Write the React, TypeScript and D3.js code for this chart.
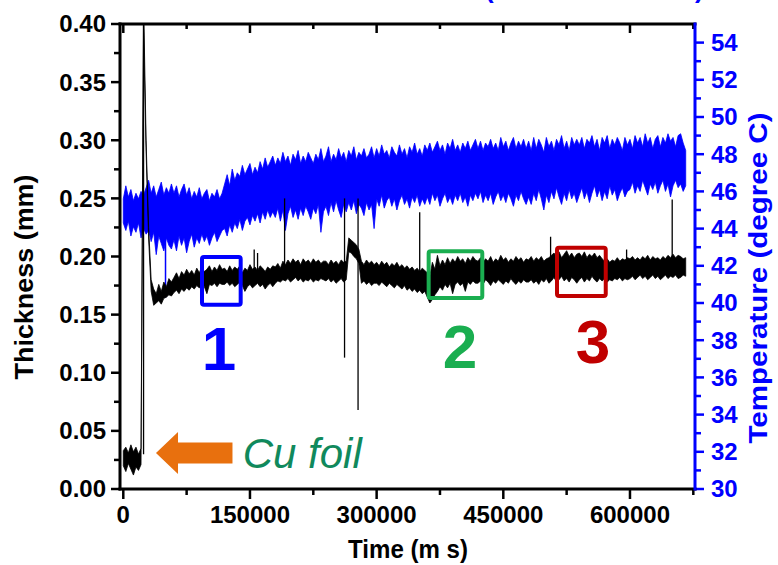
import React from 'react';
import * as d3 from 'd3';

const W = 778;
const H = 565;
const PLOT = { left: 120, right: 695, top: 24, bottom: 489 };

const X_TICKS = [0, 150000, 300000, 450000, 600000];
const X_MINOR = [75000, 225000, 375000, 525000, 675000];
const Y_TICKS = [0, 0.05, 0.1, 0.15, 0.2, 0.25, 0.3, 0.35, 0.4];
const Y_MINOR = [0.025, 0.075, 0.125, 0.175, 0.225, 0.275, 0.325, 0.375];
const T_TICKS = [30, 32, 34, 36, 38, 40, 42, 44, 46, 48, 50, 52, 54];
const T_MINOR = [31, 33, 35, 37, 39, 41, 43, 45, 47, 49, 51, 53];

// sampling grid of the read-off envelopes (ms)
const SAMPLE_START = 0;
const SAMPLE_STEP = 3000;

// Temperature (degree C): upper / lower envelope of the noisy trace
const TEMP_HIGH = [
  45.6, 46.3, 45.7, 46.1, 45.5, 45.9, 45.6, 46.0, 45.8, 46.2, 46.6, 45.9, 46.3, 45.7, 46.1, 46.5, 45.8, 46.2, 45.9, 46.4,
  45.9, 46.3, 45.7, 46.1, 46.4, 45.8, 46.2, 45.6, 46.0, 45.7, 46.2, 45.6, 45.9, 46.1, 45.5, 45.9, 45.7, 46.1, 45.6, 45.9,
  46.4, 46.9, 46.3, 47.2, 46.6, 47.0, 46.8, 47.4, 46.9, 47.2, 47.5, 46.9, 47.3, 47.0, 47.6, 47.2, 47.8, 47.3, 47.6, 47.9,
  47.4, 47.8, 47.5, 48.1, 47.6, 47.9, 47.4, 48.0, 47.7, 48.2, 47.5, 47.9, 47.6, 48.1, 47.8, 47.5, 48.0, 47.7, 48.3, 47.6,
  47.9, 48.4, 47.6, 48.0, 47.7, 48.3, 47.8, 48.1, 47.6, 48.2, 47.9, 48.4, 47.7, 48.1, 47.9, 48.3, 47.8, 48.0, 48.4, 47.8,
  48.3, 47.9, 48.5, 48.0, 48.2, 47.8, 48.4, 48.1, 47.9, 48.5, 48.0, 48.3, 47.8, 48.4, 48.1, 48.6, 48.0, 48.3, 47.9, 48.5,
  48.2, 48.6, 48.1, 48.4, 48.7, 48.2, 48.5, 48.0, 48.6, 48.3, 48.8, 48.2, 48.5, 48.1, 48.6, 48.3, 48.7, 48.2, 48.5, 48.8,
  48.3, 48.7, 48.2, 48.6, 48.4, 48.8, 48.3, 48.6, 48.2, 48.9, 48.4, 48.7, 48.2, 48.6, 48.9, 48.3, 48.7, 48.4, 48.8, 48.3,
  48.7, 48.2, 48.9, 48.3, 48.8, 48.5, 48.1, 48.9, 48.4, 48.7, 48.2, 48.8, 48.5, 49.0, 48.3, 48.7, 48.2, 48.9, 48.5, 48.8,
  48.5, 48.9, 48.3, 48.8, 48.6, 49.0, 48.4, 48.8, 48.2, 48.9, 48.6, 49.0, 48.3, 48.8, 48.5, 48.9, 48.6, 48.2, 48.9, 48.5,
  48.8, 48.3, 49.0, 48.6, 48.9, 48.4, 49.1, 48.6, 48.9, 48.3, 48.8, 49.0, 48.4, 48.9, 48.6, 49.1, 48.7, 48.9, 48.4, 49.0,
  49.1, 48.6, 48.2,
];
const TEMP_LOW = [
  44.3, 43.9, 44.4, 43.6, 44.1, 43.8, 44.3, 43.5, 44.0, 43.7, 43.9, 43.3, 43.8, 42.6, 43.6, 43.2, 42.8, 43.5, 43.1, 42.9,
  43.4, 42.8, 43.6, 43.1, 43.5, 42.7, 43.3, 43.7, 43.0, 43.5, 43.2, 43.7, 43.3, 43.6, 43.1, 43.5, 43.8, 43.3, 43.6, 43.9,
  44.0, 43.6, 44.2, 43.8, 44.3, 44.0, 44.5, 43.9, 44.4, 44.6, 44.2, 44.7, 44.4, 44.8, 44.3, 44.9, 44.5, 45.0, 44.6, 44.9,
  44.6, 45.1, 44.4, 45.0, 43.9, 44.8, 45.2, 44.6, 45.0, 44.5, 45.1, 44.7, 45.2, 44.9, 44.5, 45.1, 44.8, 45.3, 43.8, 44.9,
  45.2, 44.7, 45.4, 44.9, 45.5, 45.0, 44.6, 45.3, 44.9, 45.4, 45.0, 45.5, 44.8, 45.3, 45.1, 44.7, 45.4, 45.0, 45.3, 44.0,
  45.6, 45.2, 45.8, 45.1, 45.5, 45.7, 45.2, 45.6, 45.0, 45.5, 45.8, 45.3, 45.6, 45.1, 45.7, 45.4, 45.8, 45.2, 45.6, 45.3,
  45.7, 45.3, 45.9, 45.5, 45.8, 45.2, 45.6, 45.9, 45.4, 45.7, 45.3, 45.8, 45.5, 45.9, 45.4, 45.7, 45.2, 45.8, 45.5, 45.9,
  45.6, 46.0, 45.4, 45.8, 45.5, 45.9, 45.3, 45.7, 46.0, 45.5, 45.8, 45.4, 45.9, 45.6, 45.2, 45.8, 45.5, 46.0, 45.6, 45.3,
  45.7, 45.3, 45.9, 45.5, 46.1, 45.6, 45.0, 45.8, 45.4, 46.0, 45.6, 46.2, 45.7, 45.3, 45.9, 45.5, 46.1, 45.6, 45.9, 45.4,
  45.8, 46.2, 45.6, 46.0, 45.4, 45.9, 46.3, 45.7, 46.1, 45.5, 46.0, 45.6, 46.3, 45.8, 46.1, 45.5, 45.9, 46.2, 45.7, 46.0,
  46.1, 46.5, 45.9, 46.3, 46.0, 46.6, 46.2, 45.8, 46.4, 46.1, 46.5, 45.9, 46.3, 46.6, 46.0, 46.4, 45.7, 46.3, 46.6, 46.2,
  46.4, 46.0, 46.3,
];

// Thickness (mm): upper / lower envelope of the noisy trace
const THICK_HIGH = [
  0.033, 0.036, 0.031, 0.038, 0.032, 0.036, 0.030, 0.035, 0.420, 0.300, 0.225, 0.180, 0.172, 0.168, 0.176, 0.170, 0.178, 0.174, 0.181, 0.178,
  0.182, 0.186, 0.181, 0.187, 0.184, 0.189, 0.185, 0.188, 0.184, 0.190, 0.186, 0.191, 0.187, 0.189, 0.192, 0.187, 0.191, 0.188, 0.193, 0.189,
  0.190, 0.187, 0.192, 0.188, 0.191, 0.189, 0.192, 0.186, 0.190, 0.188, 0.193, 0.189, 0.191, 0.188, 0.192, 0.190, 0.187, 0.191, 0.189, 0.192,
  0.191, 0.194, 0.190, 0.196, 0.193, 0.197, 0.194, 0.198, 0.195, 0.197, 0.193, 0.198, 0.195, 0.197, 0.194, 0.198, 0.195, 0.197, 0.194, 0.196,
  0.196, 0.193, 0.197, 0.194, 0.196, 0.193, 0.197, 0.195, 0.196, 0.216, 0.214, 0.212, 0.210, 0.206, 0.196, 0.193, 0.197, 0.194, 0.196, 0.193,
  0.195, 0.192, 0.196, 0.193, 0.195, 0.191, 0.194, 0.192, 0.195, 0.191, 0.193, 0.190, 0.192, 0.189, 0.191, 0.188, 0.190, 0.187, 0.190, 0.188,
  0.186, 0.183, 0.195, 0.189, 0.201, 0.192, 0.197, 0.193, 0.199, 0.194, 0.198, 0.195, 0.200, 0.196, 0.198, 0.194, 0.199, 0.196, 0.200, 0.197,
  0.196, 0.199, 0.195, 0.198, 0.196, 0.200, 0.195, 0.198, 0.196, 0.201, 0.197, 0.199, 0.195, 0.198, 0.196, 0.200, 0.197, 0.199, 0.195, 0.198,
  0.197, 0.200, 0.196, 0.199, 0.197, 0.200, 0.196, 0.198, 0.199, 0.201, 0.203, 0.200, 0.204, 0.199, 0.202, 0.205, 0.200, 0.203, 0.199, 0.202,
  0.203, 0.200, 0.204, 0.199, 0.202, 0.200, 0.203, 0.199, 0.201, 0.198, 0.196, 0.198, 0.195, 0.197, 0.196, 0.199, 0.196, 0.198, 0.197, 0.199,
  0.198, 0.200, 0.197, 0.199, 0.197, 0.200, 0.198, 0.201, 0.197, 0.200, 0.198, 0.199, 0.197, 0.200, 0.198, 0.201, 0.199, 0.202, 0.199, 0.201,
  0.200, 0.198, 0.199,
];
const THICK_LOW = [
  0.020, 0.015, 0.022, 0.017, 0.012, 0.019, 0.016, 0.021, 0.395, 0.290, 0.215, 0.170, 0.158, 0.160, 0.162, 0.159, 0.164, 0.165, 0.167, 0.166,
  0.169, 0.171, 0.168, 0.172, 0.170, 0.173, 0.171, 0.174, 0.172, 0.175, 0.173, 0.176, 0.174, 0.168, 0.176, 0.175, 0.177, 0.174, 0.177, 0.176,
  0.176, 0.178, 0.175, 0.177, 0.174, 0.176, 0.178, 0.175, 0.170, 0.174, 0.176, 0.173, 0.175, 0.177, 0.174, 0.176, 0.172, 0.175, 0.177, 0.174,
  0.177, 0.179, 0.178, 0.180, 0.179, 0.181, 0.178, 0.180, 0.182, 0.179, 0.181, 0.178, 0.180, 0.179, 0.181, 0.178, 0.180, 0.179, 0.181, 0.180,
  0.179, 0.181, 0.178, 0.180, 0.177, 0.179, 0.181, 0.178, 0.180, 0.204, 0.203, 0.200, 0.198, 0.194, 0.177, 0.179, 0.176, 0.178, 0.175, 0.177,
  0.177, 0.175, 0.178, 0.176, 0.174, 0.177, 0.175, 0.173, 0.176, 0.174, 0.172, 0.175, 0.171, 0.173, 0.170, 0.172, 0.169, 0.171, 0.168, 0.170,
  0.165, 0.160, 0.163, 0.167, 0.170, 0.174, 0.171, 0.176, 0.173, 0.177, 0.168, 0.176, 0.178, 0.175, 0.177, 0.170, 0.178, 0.176, 0.179, 0.177,
  0.177, 0.179, 0.176, 0.180, 0.178, 0.175, 0.179, 0.177, 0.180, 0.178, 0.176, 0.179, 0.177, 0.181, 0.178, 0.176, 0.179, 0.177, 0.180, 0.178,
  0.178, 0.180, 0.177, 0.179, 0.176, 0.180, 0.178, 0.181, 0.177, 0.179, 0.182, 0.178, 0.180, 0.183, 0.179, 0.181, 0.178, 0.182, 0.180, 0.177,
  0.180, 0.182, 0.178, 0.181, 0.179, 0.183, 0.180, 0.178, 0.181, 0.179, 0.181, 0.178, 0.180, 0.179, 0.181, 0.180, 0.182, 0.179, 0.181, 0.180,
  0.181, 0.183, 0.180, 0.182, 0.184, 0.181, 0.183, 0.180, 0.182, 0.184, 0.181, 0.183, 0.180, 0.182, 0.184, 0.181, 0.183, 0.182, 0.184, 0.181,
  0.182, 0.184, 0.183,
];

// isolated glitches of the thickness trace
const THICK_SPIKE_TIME = [24000, 155000, 159000, 191000, 262000, 278000, 351000, 506000, 596000, 650000];
const THICK_SPIKE_TOP = [0.42, 0.206, 0.203, 0.25, 0.25, 0.25, 0.238, 0.217, 0.206, 0.249];
const THICK_SPIKE_BOTTOM = [0.03, 0.185, 0.185, 0.185, 0.113, 0.068, 0.18, 0.185, 0.188, 0.19];

// isolated glitches of the temperature trace
const TEMP_SPIKE_TIME = [50000];
const TEMP_SPIKE_TOP = [44.0];
const TEMP_SPIKE_BOTTOM = [40.3];

// annotation boxes (time range, thickness range) and labels
const BOX_LABELS = ['1', '2', '3'];
const BOX_COLORS = ['#0000ff', '#1aae50', '#c00000'];
const BOX_T0 = [93200, 361600, 513600];
const BOX_T1 = [139000, 425100, 571300];
const BOX_V0 = [0.1585, 0.1643, 0.166];
const BOX_V1 = [0.1996, 0.2045, 0.2076];
const LABEL_T = [113300, 398700, 556200];
const LABEL_V = [0.1024, 0.104, 0.1084];

const FONT = "'Liberation Sans', Arial, Helvetica, sans-serif";
const BLUE = '#0000ff';

export default function App() {
  const x = d3.scaleLinear().domain([-3900, 677000]).range([PLOT.left, PLOT.right]);
  const yL = d3.scaleLinear().domain([0, 0.4]).range([PLOT.bottom, PLOT.top]);
  const yR = d3.scaleLinear().domain([30, 55]).range([PLOT.bottom, PLOT.top]);

  const tAt = (i: number) => SAMPLE_START + i * SAMPLE_STEP;

  const tempArea = d3
    .area<number>()
    .x((_, i) => x(tAt(i)))
    .y0((_, i) => yR(TEMP_LOW[i]))
    .y1((d) => yR(d))(TEMP_HIGH) as string;

  const thickArea = d3
    .area<number>()
    .x((_, i) => x(tAt(i)))
    .y0((_, i) => yL(THICK_LOW[i]))
    .y1((d) => yL(d))(THICK_HIGH) as string;

  const fmtY = d3.format('.2f');

  // arrow for "Cu foil" in data coordinates
  const arrowTip = { t: 38700, v: 0.031 };
  const arrowHeadT = 64800;
  const arrowEndT = 129300;
  const headHalf = 0.018;
  const shaftHalf = 0.009;
  const arrowPts: [number, number][] = [
    [x(arrowTip.t), yL(arrowTip.v)],
    [x(arrowHeadT), yL(arrowTip.v + headHalf)],
    [x(arrowHeadT), yL(arrowTip.v + shaftHalf)],
    [x(arrowEndT), yL(arrowTip.v + shaftHalf)],
    [x(arrowEndT), yL(arrowTip.v - shaftHalf)],
    [x(arrowHeadT), yL(arrowTip.v - shaftHalf)],
    [x(arrowHeadT), yL(arrowTip.v - headHalf)],
  ];

  return (
    <svg
      width={W}
      height={H}
      viewBox={`0 0 ${W} ${H}`}
      style={{ position: 'absolute', left: 0, top: 0, background: '#fff' }}
      fontFamily={FONT}
    >
      <defs>
        <clipPath id="plotClip">
          <rect x={PLOT.left} y={PLOT.top} width={PLOT.right - PLOT.left} height={PLOT.bottom - PLOT.top} />
        </clipPath>
      </defs>
      <rect x={0} y={0} width={W} height={H} fill="#fff" />

      {/* cut-off heading at the very top */}
      <text x={485} y={-2} fontSize={26} fontWeight="bold" fill={BLUE}>(</text>
      <text x={695} y={-2} fontSize={26} fontWeight="bold" fill={BLUE}>)</text>

      <g clipPath="url(#plotClip)">
        <path d={tempArea} fill={BLUE} stroke={BLUE} strokeWidth={0.8} strokeLinejoin="round" />
        {TEMP_SPIKE_TIME.map((t, i) => (
          <line key={'ts' + i} x1={x(t)} x2={x(t)} y1={yR(TEMP_SPIKE_TOP[i])} y2={yR(TEMP_SPIKE_BOTTOM[i])} stroke={BLUE} strokeWidth={1.5} />
        ))}
        <path d={thickArea} fill="#000" stroke="#000" strokeWidth={0.8} strokeLinejoin="round" />
        {THICK_SPIKE_TIME.map((t, i) => (
          <line key={'ks' + i} x1={x(t)} x2={x(t)} y1={yL(THICK_SPIKE_TOP[i])} y2={yL(THICK_SPIKE_BOTTOM[i])} stroke="#000" strokeWidth={1.3} />
        ))}
      </g>

      {/* left axis */}
      {Y_TICKS.map((v) => (
        <g key={'yt' + v}>
          <line x1={PLOT.left - 9} x2={PLOT.left} y1={yL(v)} y2={yL(v)} stroke="#000" strokeWidth={2.5} />
          <text x={PLOT.left - 14} y={yL(v)} dy="0.35em" textAnchor="end" fontSize={24} fontWeight="bold" fill="#000">
            {fmtY(v)}
          </text>
        </g>
      ))}
      {Y_MINOR.map((v) => (
        <line key={'ym' + v} x1={PLOT.left - 6} x2={PLOT.left} y1={yL(v)} y2={yL(v)} stroke="#000" strokeWidth={2.5} />
      ))}

      {/* bottom & top axis ticks */}
      {X_TICKS.map((t) => (
        <g key={'xt' + t}>
          <line x1={x(t)} x2={x(t)} y1={PLOT.bottom} y2={PLOT.bottom + 10} stroke="#000" strokeWidth={2.5} />
          <line x1={x(t)} x2={x(t)} y1={PLOT.top} y2={PLOT.top + 9} stroke="#000" strokeWidth={2.5} />
          <text x={x(t)} y={523} textAnchor="middle" fontSize={24} fontWeight="bold" fill="#000">
            {String(t)}
          </text>
        </g>
      ))}
      {X_MINOR.map((t) => (
        <g key={'xm' + t}>
          <line x1={x(t)} x2={x(t)} y1={PLOT.bottom} y2={PLOT.bottom + 6} stroke="#000" strokeWidth={2.5} />
          <line x1={x(t)} x2={x(t)} y1={PLOT.top} y2={PLOT.top + 5} stroke="#000" strokeWidth={2.5} />
        </g>
      ))}

      {/* right axis */}
      {T_TICKS.map((v) => (
        <g key={'rt' + v}>
          <line x1={PLOT.right} x2={PLOT.right + 9} y1={yR(v)} y2={yR(v)} stroke={BLUE} strokeWidth={2.5} />
          <text x={PLOT.right + 16} y={yR(v)} dy="0.35em" textAnchor="start" fontSize={24} fontWeight="bold" fill={BLUE}>
            {String(v)}
          </text>
        </g>
      ))}
      {T_MINOR.map((v) => (
        <line key={'rm' + v} x1={PLOT.right} x2={PLOT.right + 6} y1={yR(v)} y2={yR(v)} stroke={BLUE} strokeWidth={2.5} />
      ))}

      {/* frame */}
      <line x1={PLOT.left} x2={PLOT.right} y1={PLOT.top} y2={PLOT.top} stroke="#000" strokeWidth={3} strokeLinecap="square" />
      <line x1={PLOT.left} x2={PLOT.right} y1={PLOT.bottom} y2={PLOT.bottom} stroke="#000" strokeWidth={3} strokeLinecap="square" />
      <line x1={PLOT.left} x2={PLOT.left} y1={PLOT.top} y2={PLOT.bottom} stroke="#000" strokeWidth={3} strokeLinecap="square" />
      <line x1={PLOT.right} x2={PLOT.right} y1={PLOT.top} y2={PLOT.bottom} stroke={BLUE} strokeWidth={3} strokeLinecap="square" />

      {/* axis titles */}
      <text
        transform="translate(33,277) rotate(-90)"
        textAnchor="middle"
        fontSize={26}
        fontWeight="bold"
        fill="#000"
        textLength={205}
        lengthAdjust="spacingAndGlyphs"
      >
        Thickness (mm)
      </text>
      <text
        transform="translate(767,278) rotate(-90)"
        textAnchor="middle"
        fontSize={26}
        fontWeight="bold"
        fill={BLUE}
        textLength={331}
        lengthAdjust="spacingAndGlyphs"
      >
        Temperature (degree C)
      </text>
      <text x={408} y={558} textAnchor="middle" fontSize={26} fontWeight="bold" fill="#000" textLength={120} lengthAdjust="spacingAndGlyphs">
        Time (m s)
      </text>

      {/* boxes and labels */}
      {BOX_LABELS.map((lab, i) => (
        <g key={'box' + i}>
          <rect
            x={x(BOX_T0[i])}
            y={yL(BOX_V1[i])}
            width={x(BOX_T1[i]) - x(BOX_T0[i])}
            height={yL(BOX_V0[i]) - yL(BOX_V1[i])}
            fill="none"
            stroke={BOX_COLORS[i]}
            strokeWidth={4}
            rx={2}
          />
          <text x={x(LABEL_T[i])} y={yL(LABEL_V[i])} textAnchor="middle" fontSize={62} fontWeight="bold" fill={BOX_COLORS[i]}>
            {lab}
          </text>
        </g>
      ))}

      {/* Cu foil arrow */}
      <polygon points={arrowPts.map((p) => p.join(',')).join(' ')} fill="#e8700e" />
      <text x={x(141400)} y={yL(0.018)} fontSize={42} fontStyle="italic" fill="#10895c">
        Cu foil
      </text>
    </svg>
  );
}
